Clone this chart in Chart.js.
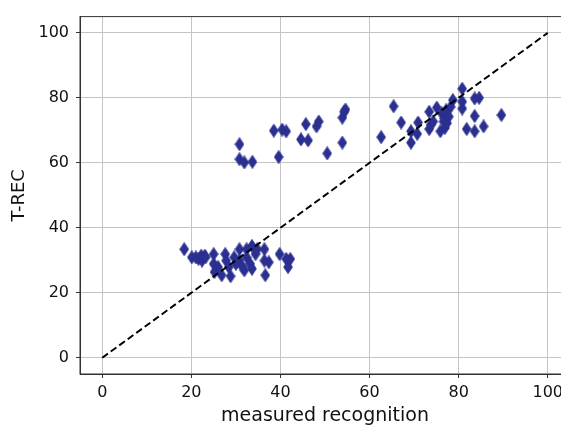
<!DOCTYPE html>
<html lang="en">
<head>
  <meta charset="UTF-8">
  <title>T-REC vs measured recognition</title>
  <script src="https://cdn.jsdelivr.net/npm/chart.js"></script>
  <style>
    html, body { margin: 0; padding: 0; background: #fff; overflow: hidden; }
    #wrap { width: 600px; height: 428px; }
  </style>
</head>
<body>
  <div id="wrap"><canvas id="chart" width="600" height="428"></canvas></div>
  <script>
    // measured recognition (x) and T-REC (y)
    const measured = [
      // upper left group
      30.8, 30.8, 31.9, 33.7, 38.5, 39.6, 40.4, 41.3, 44.6, 45.7, 46.2, 48.1, 48.6, 50.5, 53.9, 53.9, 54.3, 54.6,
      // upper right group
      62.6, 65.4, 67.1, 69.3, 69.3, 70.7, 70.9, 73.4, 73.4, 73.7, 74.3, 75.1, 75.9, 76.2, 76.9, 76.8, 77.2, 77.8,
      78.2, 78.7, 80.8, 80.8, 80.8, 81.8, 83.6, 84.6, 83.6, 83.6, 85.6, 89.6, 76.6, 77.4,
      // lower group
      18.4, 20.1, 21.0, 21.6, 22.2, 22.4, 23.0, 23.2, 25.0, 25.0, 25.2, 26.0, 26.8, 27.6, 27.8, 28.4, 28.8, 29.6,
      30.8, 30.8, 31.5, 31.9, 32.4, 33.2, 33.6, 33.6, 34.4, 34.8, 36.4, 36.4, 36.6, 37.4, 39.8, 41.3, 41.7, 42.2,
      32.4, 30.0
    ];
    const trec = [
      65.7, 61.1, 60.1, 60.3, 69.9, 61.8, 70.2, 69.7, 67.2, 71.9, 66.9, 71.2, 72.7, 62.9, 66.2, 73.9, 75.7, 76.4,
      67.9, 77.4, 72.4, 66.2, 69.7, 68.9, 72.4, 75.7, 70.4, 71.7, 72.7, 77.0, 69.7, 75.2, 70.7, 73.7, 76.2, 74.2,
      77.2, 79.3, 82.8, 78.8, 76.7, 70.4, 79.8, 80.0, 74.4, 69.7, 71.2, 74.7, 72.7, 72.2,
      33.4, 30.9, 30.9, 30.4, 31.4, 29.9, 31.4, 30.9, 31.9, 28.9, 26.4, 27.9, 25.4, 31.9, 29.9, 27.9, 25.1, 30.9,
      33.4, 29.9, 27.9, 26.9, 30.9, 28.9, 34.4, 27.4, 31.9, 33.4, 33.4, 29.9, 25.4, 29.4, 31.9, 30.4, 27.9, 30.4,
      33.4, 28.9
    ];
    // identity reference line
    const refX = [0, 100];
    const refY = [0, 100];
    const tickValues = [0, 20, 40, 60, 80, 100];

    const markerColor = '#2b3090';

    // thin diamond marker, like matplotlib 'd'
    const diamond = document.createElement('canvas');
    diamond.width = 10;
    diamond.height = 14;
    const dctx = diamond.getContext('2d');
    dctx.fillStyle = markerColor;
    dctx.strokeStyle = markerColor;
    dctx.lineWidth = 0.6;
    dctx.beginPath();
    dctx.moveTo(5, 0.3);
    dctx.lineTo(9.5, 7);
    dctx.lineTo(5, 13.7);
    dctx.lineTo(0.5, 7);
    dctx.closePath();
    dctx.fill();
    dctx.stroke();

    const frame = {
      id: 'frame',
      afterDraw(chart) {
        const { ctx, chartArea: a } = chart;
        ctx.save();
        ctx.strokeStyle = '#333';
        ctx.lineWidth = 1;
        ctx.strokeRect(a.left, a.top, a.right - a.left, a.bottom - a.top);
        ctx.restore();
      }
    };

    const font = { family: 'DejaVu Sans', size: 16 };
    const setTicks = axis => { axis.ticks = tickValues.map(v => ({ value: v })); };

    new Chart(document.getElementById('chart'), {
      type: 'scatter',
      data: {
        datasets: [
          {
            data: refX.map((x, i) => ({ x, y: refY[i] })),
            showLine: true,
            borderColor: '#000',
            borderWidth: 2,
            borderDash: [7, 3.5],
            pointRadius: 0,
            order: 0
          },
          {
            data: measured.map((x, i) => ({ x, y: trec[i] })),
            pointStyle: diamond,
            backgroundColor: markerColor,
            order: 1
          }
        ]
      },
      options: {
        responsive: false,
        animation: false,
        layout: { padding: { left: 0, top: 11, right: 30, bottom: 0 } },
        plugins: { legend: { display: false }, tooltip: { enabled: false } },
        scales: {
          x: {
            type: 'linear',
            min: -5,
            max: 105,
            afterBuildTicks: setTicks,
            afterFit: s => { s.height = 54; },
            grid: { color: '#c4c4c4', lineWidth: 1, tickLength: 4, tickColor: '#333' },
            border: { display: true, color: '#333', width: 1 },
            ticks: { font, color: '#111', padding: 5, maxRotation: 0 },
            title: {
              display: true,
              text: 'measured recognition',
              font: { family: 'DejaVu Sans', size: 19 },
              color: '#111',
              padding: { top: 0, bottom: 1 }
            }
          },
          y: {
            type: 'linear',
            min: -5,
            max: 105,
            afterBuildTicks: setTicks,
            afterFit: s => { s.width = 80; },
            grid: { color: '#c4c4c4', lineWidth: 1, tickLength: 4, tickColor: '#333' },
            border: { display: true, color: '#333', width: 1 },
            ticks: { font, color: '#111', padding: 7 },
            title: {
              display: true,
              text: 'T-REC',
              font: { family: 'DejaVu Sans', size: 18 },
              color: '#111',
              padding: { top: 9, bottom: 0 }
            }
          }
        }
      },
      plugins: [frame]
    });
  </script>
</body>
</html>
